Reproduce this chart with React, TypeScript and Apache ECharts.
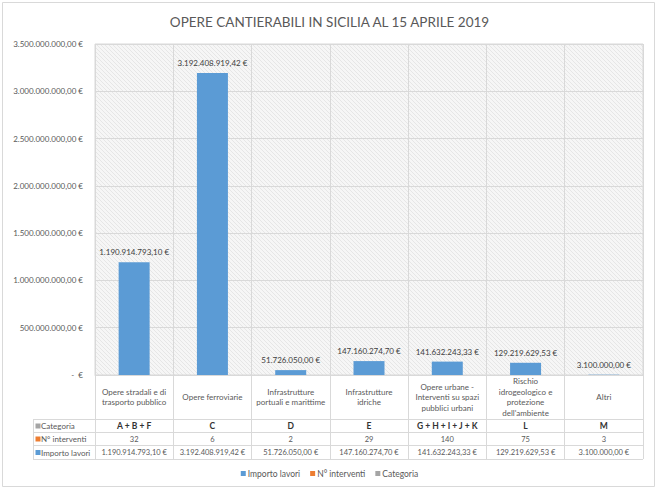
import React, { useEffect, useRef } from "react";
import * as echarts from "echarts";

const categories = [
  "Opere stradali e di\ntrasporto pubblico",
  "Opere ferroviarie",
  "Infrastrutture\nportuali e marittime",
  "Infrastrutture\nidriche",
  "Opere urbane -\nInterventi su spazi\npubblici urbani",
  "Rischio\nidrogeologico e\nprotezione\ndell'ambiente",
  "Altri",
];
const codes = ["A + B + F", "C", "D", "E", "G + H + I + J + K", "L", "M"];
const interventi = [32, 6, 2, 29, 140, 75, 3];
const importo = [
  1190914793.1, 3192408919.42, 51726050.0, 147160274.7, 141632243.33,
  129219629.53, 3100000.0,
];
const seriesNames = ["Importo lavori", "N° interventi", "Categoria"];
const rowNames = ["Categoria", "N° interventi", "Importo lavori"];
const yMin = 0;
const yMax = 3500000000;
const yInterval = 500000000;
const title = "OPERE CANTIERABILI IN SICILIA AL 15 APRILE 2019";

const BLUE = "#5b9bd5";
const ORANGE = "#ed7d31";
const GRAY = "#a5a5a5";
const FONT = "Lato, sans-serif";
const TXT = "#595959";
const LINE = "#d9d9d9";

function fmtEuro(v: number): string {
  if (v === 0) return "-  €";
  const [i, d] = v.toFixed(2).split(".");
  const ii = i.replace(/\B(?=(\d{3})+(?!\d))/g, ".");
  return `${ii},${d} €`;
}

// layout
const GL = 95;
const GR = 643;
const GT = 44;
const GB = 375;
const rowTops = [419, 432, 445];
const rowBottom = 459;
const tableLeft = 33;

function makeHatch(): any {
  try {
    const c = document.createElement("canvas");
    c.width = 4;
    c.height = 4;
    const ctx = c.getContext("2d");
    if (!ctx) return "#f2f2f2";
    ctx.fillStyle = "#f6f6f6";
    ctx.fillRect(0, 0, 4, 4);
    ctx.fillStyle = "#e6e6e6";
    for (let i = 0; i < 4; i++) ctx.fillRect(i, i, 1, 1);
    return { image: c, repeat: "repeat" };
  } catch (e) {
    return "#f2f2f2";
  }
}

export default function App() {
  const ref = useRef<HTMLDivElement>(null);
  useEffect(() => {
    if (!ref.current) return;
    const chart = echarts.init(ref.current, undefined, { renderer: "svg" });
    const rowColors = [GRAY, ORANGE, BLUE];
    const graphics: any[] = [
      {
        type: "rect",
        shape: { x: 2.5, y: 2.5, width: 652, height: 484 },
        style: { fill: "none", stroke: LINE, lineWidth: 1 },
        silent: true,
      },
    ];
    [...rowTops, rowBottom].forEach((y) => {
      graphics.push({
        type: "line",
        shape: { x1: tableLeft, y1: y + 0.5, x2: GR, y2: y + 0.5 },
        style: { stroke: LINE, lineWidth: 1 },
        silent: true,
      });
    });
    graphics.push({
      type: "line",
      shape: { x1: tableLeft + 0.5, y1: rowTops[0], x2: tableLeft + 0.5, y2: rowBottom },
      style: { stroke: LINE, lineWidth: 1 },
      silent: true,
    });
    rowNames.forEach((name, i) => {
      const top = rowTops[i];
      const bottom = i + 1 < rowTops.length ? rowTops[i + 1] : rowBottom;
      const cy = (top + bottom) / 2 + 0.5;
      graphics.push({
        type: "rect",
        shape: { x: 35.5, y: cy - 2.5, width: 5, height: 5 },
        style: { fill: rowColors[i] },
        silent: true,
      });
      graphics.push({
        type: "text",
        x: 41,
        y: cy,
        style: {
          text: name,
          fill: TXT,
          fontSize: 8,
          fontFamily: FONT,
          verticalAlign: "middle",
          align: "left",
        },
        silent: true,
      });
    });

    const rowAxis = (data: string[], rowIdx: number, extra: any = {}) => {
      const top = rowTops[rowIdx];
      const bottom = rowIdx + 1 < rowTops.length ? rowTops[rowIdx + 1] : rowBottom;
      const cy = (top + bottom) / 2 + 0.5;
      return {
        type: "category",
        gridIndex: 0,
        position: "bottom",
        data,
        axisLine: { show: false },
        axisTick: { show: false },
        splitLine: { show: false },
        axisLabel: {
          interval: 0,
          margin: cy - GB,
          verticalAlign: "middle",
          fontSize: 7.5,
          color: TXT,
          fontFamily: FONT,
          ...extra,
        },
      };
    };

    chart.setOption({
      animation: false,
      textStyle: { fontFamily: FONT },
      title: {
        text: title,
        left: "center",
        top: 10,
        textStyle: { fontSize: 13.5, fontWeight: "normal", color: TXT, fontFamily: FONT },
      },
      legend: {
        data: seriesNames,
        left: "center",
        top: 464,
        icon: "rect",
        itemWidth: 5,
        itemHeight: 5,
        itemGap: 10,
        textStyle: { fontSize: 8.5, color: TXT, fontFamily: FONT, padding: [0, 0, 0, -3] },
      },
      grid: {
        left: GL,
        right: 659 - GR,
        top: GT,
        bottom: 489 - GB,
        show: true,
        backgroundColor: makeHatch(),
        borderColor: LINE,
        borderWidth: 1,
      },
      xAxis: [
        {
          type: "category",
          data: categories,
          position: "bottom",
          axisLine: { show: true, lineStyle: { color: LINE } },
          axisTick: { show: true, interval: 0, length: rowBottom - GB, lineStyle: { color: LINE } },
          splitLine: { show: true, interval: 0, lineStyle: { color: LINE } },
          axisLabel: {
            interval: 0,
            margin: (rowTops[0] - GB) / 2,
            verticalAlign: "middle",
            fontSize: 8,
            lineHeight: 10.5,
            color: TXT,
            fontFamily: FONT,
          },
        },
        rowAxis(codes, 0, { fontSize: 8.5, fontWeight: "bold", color: "#333333" }),
        rowAxis(interventi.map((v) => String(v)), 1),
        rowAxis(importo.map(fmtEuro), 2),
      ],
      yAxis: {
        type: "value",
        min: yMin,
        max: yMax,
        interval: yInterval,
        axisLine: { show: false },
        axisTick: { show: false },
        splitLine: { lineStyle: { color: LINE } },
        axisLabel: {
          fontSize: 8,
          color: TXT,
          margin: 12,
          fontFamily: FONT,
          formatter: (v: number) => fmtEuro(v),
        },
      },
      series: [
        {
          name: seriesNames[0],
          type: "bar",
          data: importo,
          barWidth: 31,
          itemStyle: { color: BLUE },
          label: {
            show: true,
            position: "top",
            distance: 6,
            fontSize: 8,
            color: "#404040",
            fontFamily: FONT,
            formatter: (p: any) => fmtEuro(p.value),
          },
        },
        {
          name: seriesNames[1],
          type: "bar",
          data: interventi,
          barWidth: 31,
          barGap: "-100%",
          itemStyle: { color: ORANGE },
        },
        {
          name: seriesNames[2],
          type: "bar",
          data: [],
          barWidth: 31,
          barGap: "-100%",
          itemStyle: { color: GRAY },
        },
      ],
      graphic: graphics,
    });
    return () => chart.dispose();
  }, []);
  return (
    <div
      ref={ref}
      style={{ position: "fixed", left: 0, top: 0, width: 659, height: 489, background: "#fff" }}
    />
  );
}
